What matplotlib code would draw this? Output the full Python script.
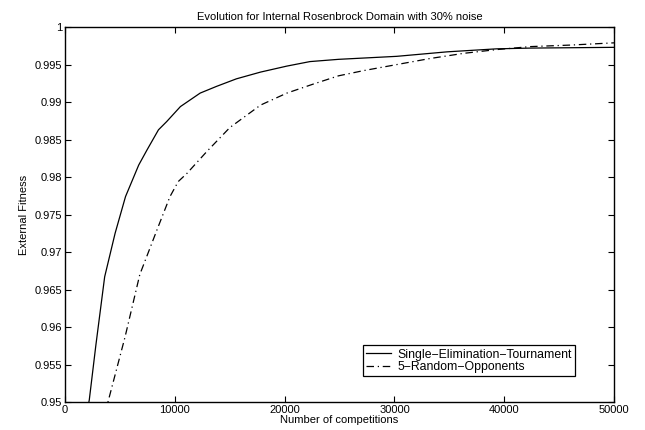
import matplotlib
matplotlib.use('Agg')
import matplotlib.pyplot as plt
import numpy as np

plt.rcParams['font.family'] = ['Liberation Sans', 'DejaVu Sans']
plt.rcParams['font.size'] = 8

# Single-elimination tournament
single_x = [2000, 2200, 2800, 3600, 4550, 5500, 6700, 7450, 8500, 9250, 10500,
            12300, 13800, 15600, 17800, 20200, 22300, 24900, 30200, 34800,
            39300, 42400, 50000]
single_y = [0.9487, 0.9503, 0.9576, 0.9667, 0.9725, 0.9774, 0.9816, 0.9836,
            0.9863, 0.9874, 0.9894, 0.9912, 0.9921, 0.9931, 0.9940, 0.9948,
            0.9954, 0.9957, 0.9961, 0.9967, 0.9971, 0.9972, 0.9973]

# 5 random opponents
random_x = [3700, 3900, 5460, 6800, 8350, 9550, 10300, 11100, 12900, 15000,
            17800, 20200, 22600, 24900, 27200, 30200, 33200, 36300, 39300,
            42400, 46000, 50000]
random_y = [0.9485, 0.9500, 0.9587, 0.9670, 0.9729, 0.9774, 0.9794, 0.9805,
            0.9834, 0.9866, 0.9896, 0.9912, 0.9924, 0.9935, 0.9942, 0.9950,
            0.9958, 0.9965, 0.9970, 0.9974, 0.9976, 0.9979]

fig = plt.figure(figsize=(6.45, 4.3), dpi=100)
ax = fig.add_axes([0.101, 0.065, 0.851, 0.872])

ax.plot(single_x, single_y, color='black', linewidth=0.9,
        label='Single\u2212Elimination\u2212Tournament')
ax.plot(random_x, random_y, color='black', linewidth=0.9,
        linestyle=(0, (6, 3, 1, 3)), label='5\u2212Random\u2212Opponents')

ax.set_xlim(0, 50000)
ax.set_ylim(0.95, 1.0)
ax.set_xticks(np.arange(0, 50001, 10000))
ax.set_xticklabels([str(v) for v in range(0, 50001, 10000)])
yt = np.round(np.arange(0.95, 1.0001, 0.005), 3)
ax.set_yticks(yt)
ax.set_yticklabels(['%g' % v for v in yt])
ax.tick_params(direction='in', top=True, right=True, length=4, width=0.8,
               labelsize=8, pad=2)
for s in ax.spines.values():
    s.set_linewidth(1.0)

ax.set_title('Evolution for Internal Rosenbrock Domain with 30% noise',
             fontsize=8, pad=5)
ax.set_xlabel('Number of competitions', fontsize=8, labelpad=0)
ax.set_ylabel('External Fitness', fontsize=8, labelpad=4)

leg = ax.legend(loc='lower left', bbox_to_anchor=(0.543, 0.069),
                borderaxespad=0, fancybox=False, framealpha=1,
                edgecolor='black', fontsize=8.8, handlelength=2.0,
                handletextpad=0.55, borderpad=0.25, labelspacing=0.05)
leg.get_frame().set_linewidth(0.9)

fig.savefig('out.png', dpi=100)
